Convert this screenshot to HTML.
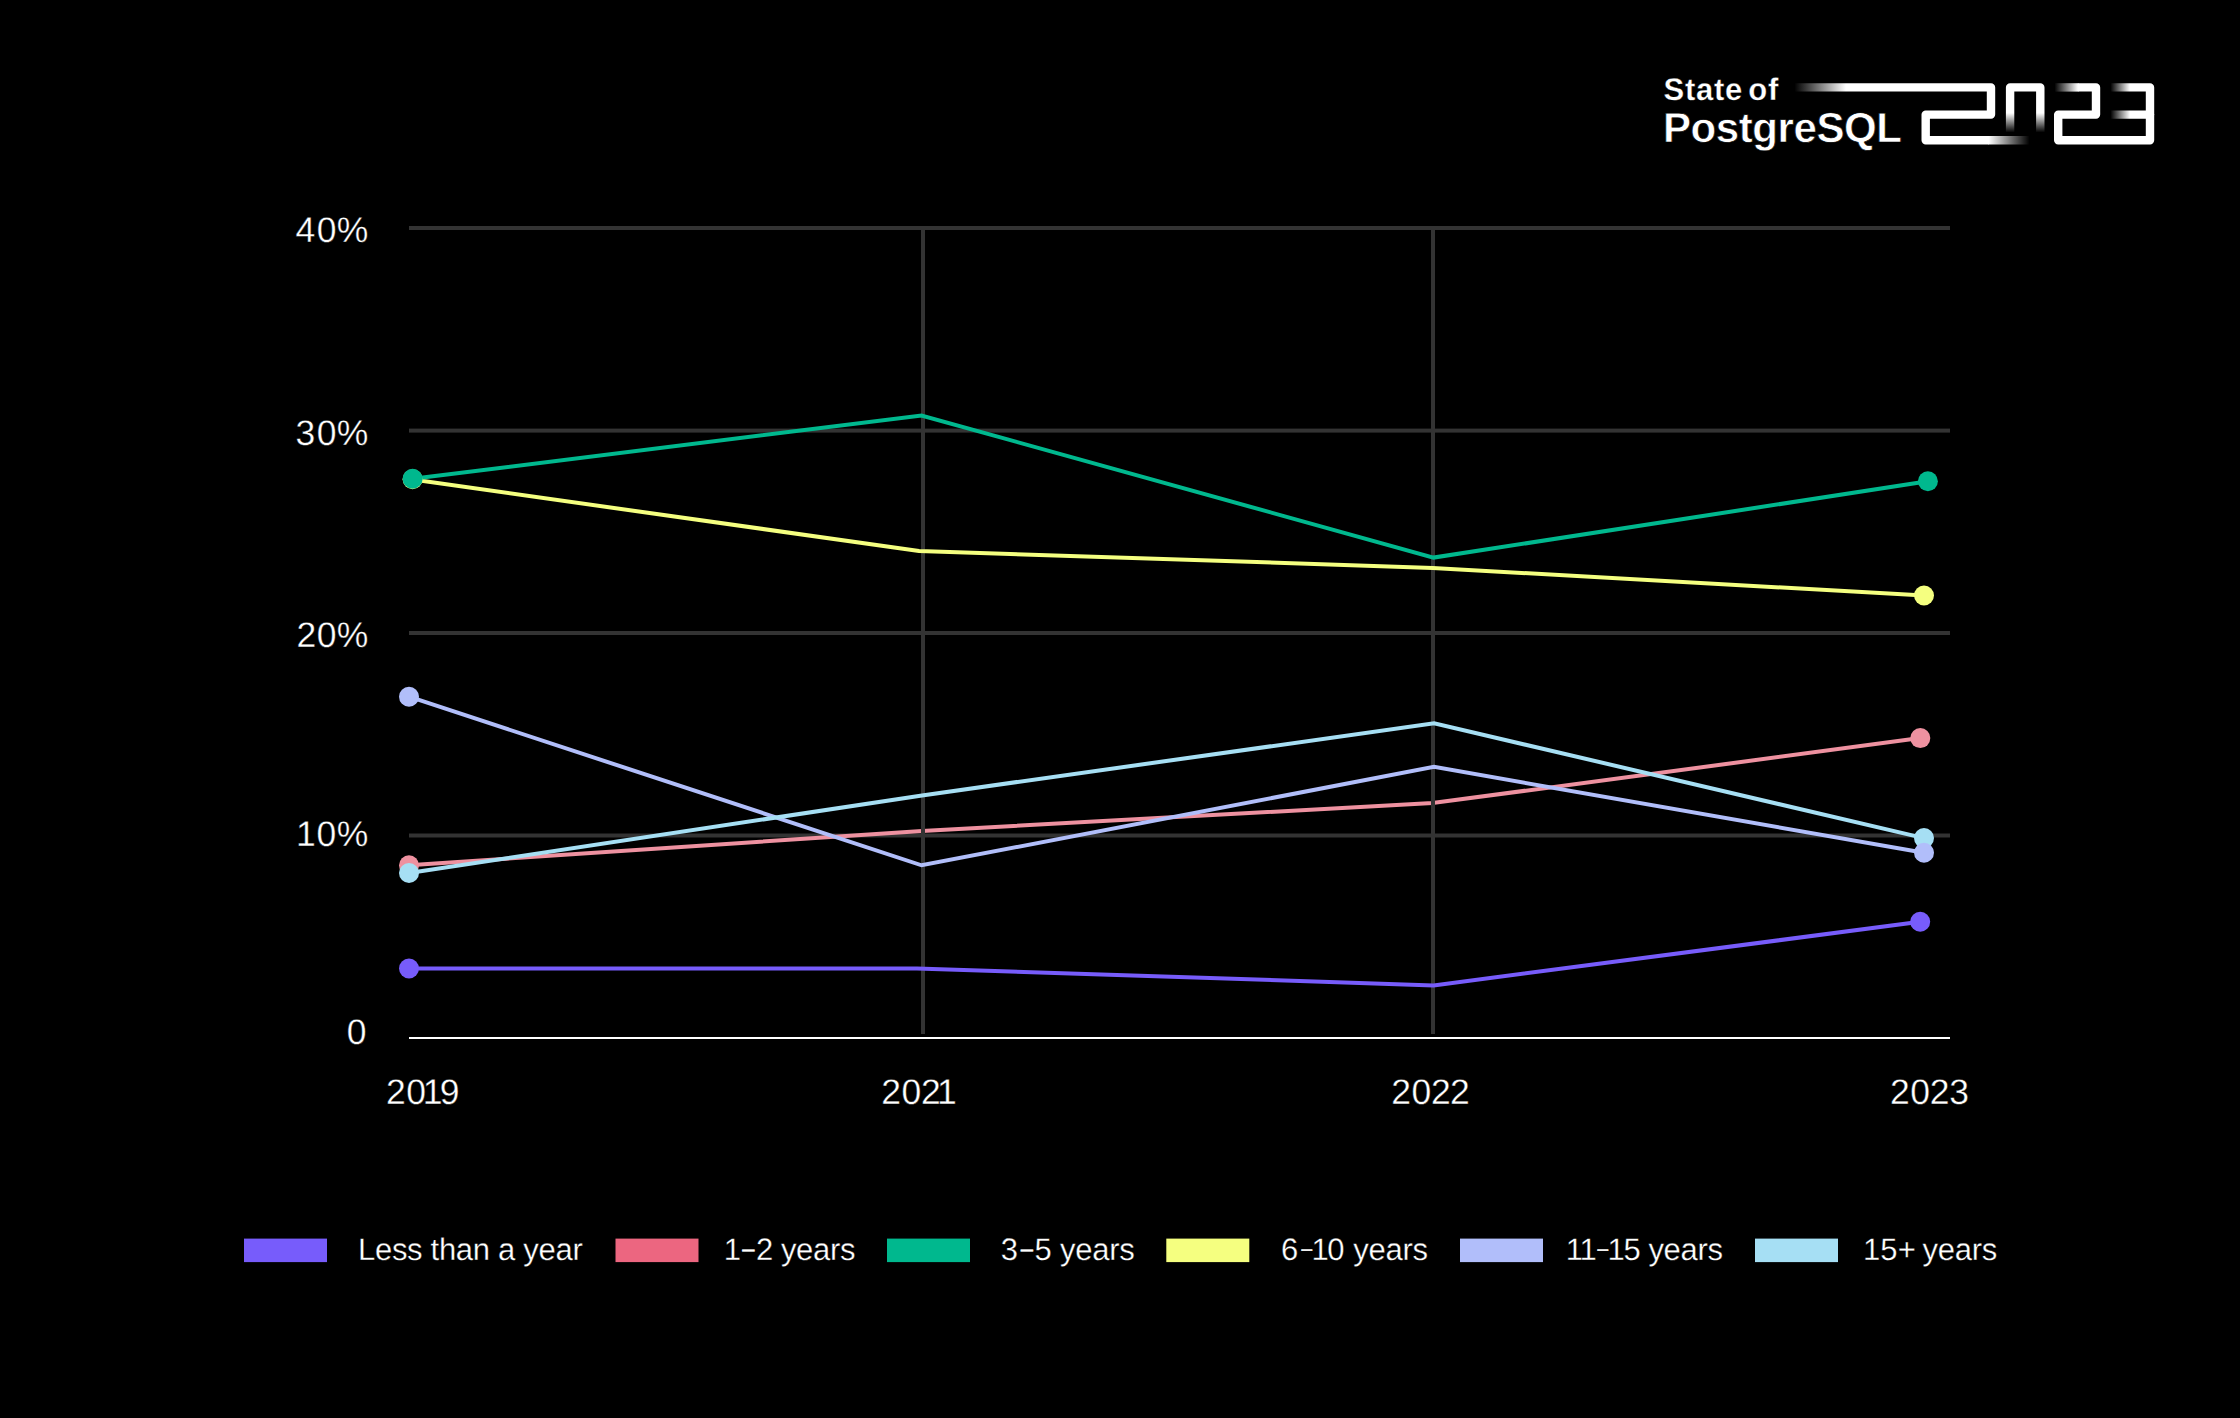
<!DOCTYPE html>
<html lang="en">
<head>
<meta charset="utf-8">
<title>State of PostgreSQL 2023 – Years of experience</title>
<style>
  html, body { margin: 0; padding: 0; background: #000; }
  body { width: 2240px; height: 1418px; overflow: hidden; }
  svg { display: block; }
  text { font-family: "Liberation Sans", sans-serif; text-rendering: geometricPrecision; fill: #fff; paint-order: fill stroke; stroke: #000; stroke-linejoin: round; }
  .axis { font-size: 35.5px; stroke-width: 0.35px; }
  .leg { font-size: 31px; letter-spacing: -0.3px; stroke-width: 0.3px; }
  .leg .d { font-size: 22px; stroke: #fff; stroke-width: 0.5px; letter-spacing: 0; }
  .b { font-weight: 700; stroke-width: 0.6px; }
</style>
</head>
<body>
<svg width="2240" height="1418" viewBox="0 0 2240 1418">
  <defs>
    <linearGradient id="fadeInA" gradientUnits="userSpaceOnUse" x1="1794.5" y1="0" x2="1846" y2="0">
      <stop offset="0" stop-color="#fff" stop-opacity="0"/>
      <stop offset="1" stop-color="#fff" stop-opacity="1"/>
    </linearGradient>
    <linearGradient id="fadeOutA" gradientUnits="userSpaceOnUse" x1="1988.5" y1="0" x2="2029.5" y2="0">
      <stop offset="0" stop-color="#fff" stop-opacity="1"/>
      <stop offset="1" stop-color="#fff" stop-opacity="0"/>
    </linearGradient>
    <linearGradient id="fadeDown" gradientUnits="userSpaceOnUse" x1="0" y1="113" x2="0" y2="132.5">
      <stop offset="0" stop-color="#fff" stop-opacity="1"/>
      <stop offset="1" stop-color="#fff" stop-opacity="0"/>
    </linearGradient>
    <linearGradient id="fadeInB" gradientUnits="userSpaceOnUse" x1="2054.5" y1="0" x2="2078" y2="0">
      <stop offset="0" stop-color="#fff" stop-opacity="0"/>
      <stop offset="1" stop-color="#fff" stop-opacity="1"/>
    </linearGradient>
    <linearGradient id="fadeInC" gradientUnits="userSpaceOnUse" x1="2110.5" y1="0" x2="2130" y2="0">
      <stop offset="0" stop-color="#fff" stop-opacity="0"/>
      <stop offset="1" stop-color="#fff" stop-opacity="1"/>
    </linearGradient>
  </defs>

  <rect width="2240" height="1418" fill="#000"/>

  <!-- header logo -->
  <g id="logo">
    <title>State of PostgreSQL 2023</title>
    <text class="b" y="100.2" font-size="31" letter-spacing="0.7" style="stroke-width:0.3px"><tspan x="1663.6">State</tspan> <tspan x="1748.3">of</tspan></text>
    <text class="b" x="1662.9" y="142" font-size="42" letter-spacing="-0.4">PostgreSQL</text>
    <g fill="none" stroke="#fff" stroke-width="8.4" stroke-linejoin="round" stroke-linecap="butt">
      <!-- decorative maze-line mark (icon strokes) -->
      <polyline points="1794,87.4 1991,87.4 1991,114.6 1925.7,114.6 1925.7,140.3 1989,140.3" stroke="url(#fadeInA)"/>
      <line x1="1988.5" y1="140.3" x2="2030" y2="140.3" stroke="url(#fadeOutA)"/>
      <polyline points="2010.1,133 2010.1,87.4 2040.3,87.4 2040.3,133" stroke="url(#fadeDown)"/>
      <line x1="2054" y1="87.4" x2="2078.5" y2="87.4" stroke="url(#fadeInB)"/>
      <polyline points="2078,87.4 2096,87.4 2096,114.6 2058.2,114.6 2058.2,140.3 2150,140.3 2150,114"/>
      <polyline points="2110,114.6 2150,114.6 2150,87.4 2110,87.4" stroke="url(#fadeInC)"/>
    </g>
  </g>

  <!-- horizontal grid -->
  <g id="hgrid" fill="#333">
    <rect x="409" y="226" width="1541" height="4"/>
    <rect x="409" y="428.6" width="1541" height="4"/>
    <rect x="409" y="631" width="1541" height="4"/>
    <rect x="409" y="833.5" width="1541" height="4"/>
  </g>

  <!-- series drawn beneath the vertical grid -->
  <g fill="none" stroke-width="4" stroke-linejoin="miter" stroke-linecap="butt">
    <polyline id="s-pink" stroke="#EE91A0" points="409,865.2 922,830.9 1432.5,803.1 1920.3,738.1"/>
  </g>

  <!-- vertical grid -->
  <g id="vgrid" fill="#333">
    <rect x="921" y="228" width="4" height="806"/>
    <rect x="1431" y="228" width="4" height="806"/>
  </g>

  <!-- x axis -->
  <rect x="409" y="1037" width="1541" height="2" fill="#fff"/>

  <!-- series -->
  <g fill="none" stroke-width="4" stroke-linejoin="miter" stroke-linecap="butt">
    <polyline id="s-purple" stroke="#775CFB" points="409,968.5 917,968.5 1433.6,985.4 1920.2,921.8"/>
    <polyline id="s-yellow" stroke="#F5FF80" points="412.7,479.6 919,551 1432.8,567.9 1924,595.5"/>
    <polyline id="s-green" stroke="#00B88E" points="412.6,478.8 921.5,415.5 1433.5,557.6 1927.9,481.2"/>
    <polyline id="s-lav" stroke="#B1BEFA" points="409,696.7 921.6,865.3 1434,766.9 1924,852.8"/>
    <polyline id="s-sky" stroke="#A6DFF4" points="409,873 922,795.4 1434.1,723.3 1924,838.1"/>
  </g>

  <!-- markers -->
  <g id="dots">
    <circle cx="409" cy="968.5" r="10" fill="#775CFB"/>
    <circle cx="1920.2" cy="921.8" r="10" fill="#775CFB"/>
    <circle cx="409" cy="865.2" r="10" fill="#EE91A0"/>
    <circle cx="1920.3" cy="738.1" r="10" fill="#EE91A0"/>
    <circle cx="1924" cy="595.5" r="10" fill="#F5FF80"/>
    <circle cx="412.6" cy="479.25" r="10" fill="#F5FF80"/>
    <circle cx="412.6" cy="478.8" r="10" fill="#00B88E"/>
    <circle cx="1927.9" cy="481.2" r="10" fill="#00B88E"/>
    <circle cx="409" cy="873" r="10" fill="#A6DFF4"/>
    <circle cx="1924" cy="838.1" r="10" fill="#A6DFF4"/>
    <circle cx="409" cy="696.7" r="10" fill="#B1BEFA"/>
    <circle cx="1924" cy="852.8" r="10" fill="#B1BEFA"/>
  </g>

  <!-- y axis labels -->
  <g class="axis">
    <text x="295.44 316.78 336.75" y="241.6">40%</text>
    <text x="295.54 316.68 336.7" y="445">30%</text>
    <text x="296.38 316.68 336.7" y="646.8">20%</text>
    <text x="296 316.38 336.75" y="845.7">10%</text>
    <text x="346.63" y="1043.6">0</text>
  </g>

  <!-- x axis labels -->
  <g class="axis">
    <text x="385.88 406.23 422.7 439.68" y="1104">2019</text>
    <text x="881.13 901.38 921.08 937.1" y="1104">2021</text>
    <text x="1391.16 1411.38 1431.08 1450.03" y="1104">2022</text>
    <text x="1889.93 1910.13 1929.83 1949.24" y="1104">2023</text>
  </g>

  <!-- legend -->
  <g id="legend" class="leg">
    <rect x="244" y="1238.6" width="83" height="23.5" fill="#775CFB"/>
    <text x="358" y="1259.8">Less than a year</text>
    <rect x="615.5" y="1238.6" width="83" height="23.5" fill="#EC6680"/>
    <text y="1259.8"><tspan x="723.8">1</tspan><tspan class="d" x="742.2" dy="-4.2">–</tspan><tspan x="755.95" dy="4.2">2</tspan> <tspan x="780.9">years</tspan></text>
    <rect x="887" y="1238.6" width="83" height="23.5" fill="#00B88E"/>
    <text y="1259.8"><tspan x="1000.7">3</tspan><tspan class="d" x="1020.7" dy="-4.2">–</tspan><tspan x="1034.6" dy="4.2">5</tspan> <tspan x="1060.1">years</tspan></text>
    <rect x="1166.3" y="1238.6" width="83" height="23.5" fill="#F5FF80"/>
    <text y="1259.8"><tspan x="1280.9">6</tspan><tspan class="d" x="1301.6" dy="-5" style="font-size:19px">–</tspan><tspan x="1311.6" dy="5">1</tspan><tspan x="1327.2">0</tspan> <tspan x="1353.3">years</tspan></text>
    <rect x="1460" y="1238.6" width="83" height="23.5" fill="#B1BEFA"/>
    <text y="1259.8"><tspan x="1565.8">1</tspan><tspan x="1579.5">1</tspan><tspan class="d" x="1597.4" dy="-5" style="font-size:19px">–</tspan><tspan x="1607.6" dy="5">1</tspan><tspan x="1623.5">5</tspan> <tspan x="1648.4">years</tspan></text>
    <rect x="1755" y="1238.6" width="83" height="23.5" fill="#A6DFF4"/>
    <text y="1259.8"><tspan x="1863">1</tspan><tspan x="1880.3">5</tspan><tspan x="1897.75">+</tspan> <tspan x="1922.6">years</tspan></text>
  </g>
</svg>
</body>
</html>
